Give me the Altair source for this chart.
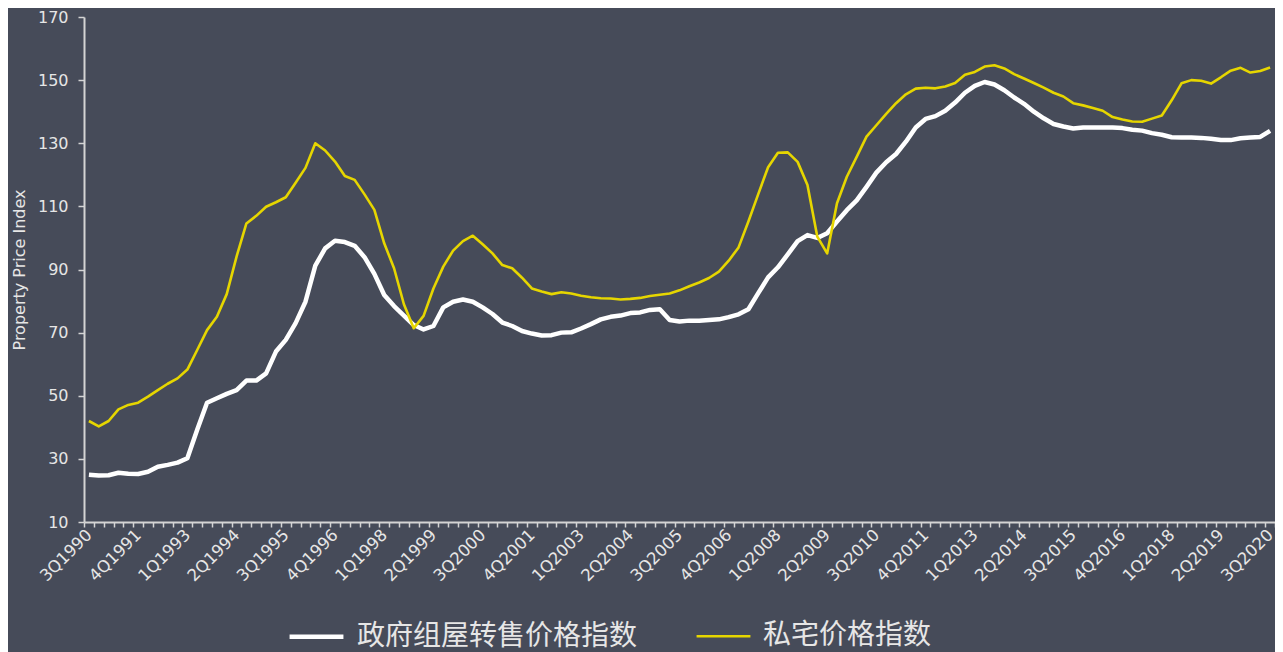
import altair as alt
import pandas as pd

# Quarter categories 3Q1990 .. 3Q2020
quarters = []
_y, _q = 1990, 3
for _ in range(121):
    quarters.append(f"{_q}Q{_y}")
    _q += 1
    if _q > 4:
        _q = 1
        _y += 1

series_names = ["政府组屋转售价格指数", "私宅价格指数"]

hdb = [
    25.0, 24.7, 24.8, 25.6, 25.3, 25.2, 25.9, 27.5, 28.1, 28.8,
    30.2, 39.2, 47.8, 49.2, 50.6, 51.8, 54.8, 54.8, 57.1, 64.0,
    67.7, 73.0, 79.8, 91.2, 96.7, 99.1, 98.7, 97.5, 93.9, 88.6,
    81.9, 78.4, 75.4, 72.4, 71.0, 72.1, 78.0, 79.8, 80.5, 79.8,
    78.0, 75.9, 73.2, 72.1, 70.5, 69.7, 69.1, 69.2, 70.0, 70.1,
    71.3, 72.7, 74.2, 75.0, 75.4, 76.2, 76.4, 77.2, 77.4, 74.0,
    73.5, 73.8, 73.8, 74.0, 74.2, 74.9, 75.8, 77.4, 82.5, 87.5,
    90.7, 94.8, 99.0, 100.9, 100.0, 101.5, 105.2, 108.8, 111.9, 116.2,
    120.7, 124.0, 126.6, 130.5, 135.0, 137.7, 138.6, 140.3, 142.9, 146.0,
    148.2, 149.4, 148.6, 146.8, 144.5, 142.5, 140.0, 137.9, 136.1, 135.3,
    134.7, 135.0, 135.0, 135.0, 135.0, 134.8, 134.3, 134.0, 133.2, 132.7,
    131.9, 131.8, 131.8, 131.7, 131.4, 131.0, 131.0, 131.6, 131.8, 132.0, 133.9,
]

private = [
    42.0, 40.3, 42.0, 45.7, 47.1, 47.8, 49.7, 51.8, 53.8, 55.5,
    58.3, 64.5, 70.8, 75.0, 82.2, 94.1, 104.6, 107.0, 109.9, 111.3,
    112.9, 117.5, 122.2, 130.0, 127.7, 124.2, 119.6, 118.4, 113.8, 108.9,
    98.3, 90.4, 79.0, 71.4, 75.3, 84.0, 90.9, 96.0, 99.0, 100.7,
    98.0, 95.1, 91.4, 90.4, 87.4, 84.0, 83.0, 82.2, 82.8, 82.4,
    81.7, 81.2, 80.9, 80.8, 80.5, 80.7, 81.0, 81.6, 82.0, 82.4,
    83.4, 84.7, 85.9, 87.3, 89.3, 92.8, 97.0, 105.2, 113.9, 122.4,
    127.0, 127.1, 124.1, 116.8, 100.4, 95.1, 111.0, 119.4, 125.7, 132.1,
    135.7, 139.3, 142.7, 145.5, 147.3, 147.6, 147.4, 148.0, 149.1, 151.7,
    152.6, 154.3, 154.7, 153.7, 151.9, 150.5, 149.1, 147.6, 146.0, 144.8,
    142.7, 142.0, 141.2, 140.3, 138.3, 137.5, 136.9, 136.8, 137.8, 138.8,
    143.6, 149.0, 150.0, 149.8, 148.9, 150.9, 153.0, 153.9, 152.4, 152.9, 154.0,
]

y_ticks = [10, 30, 50, 70, 90, 110, 130, 150, 170]
label_quarters = quarters[::5]

rows = []
for name, vals in zip(series_names, [hdb, private]):
    for qtr, v in zip(quarters, vals):
        rows.append({"quarter": qtr, "series": name, "value": v})
df = pd.DataFrame(rows)

label_expr = (
    "indexof([" + ",".join(f"'{q}'" for q in label_quarters) + "], datum.value) >= 0 ? datum.value : ''"
)

BG = "#464b59"
AXIS_COL = "#d4d4d4"
TEXT_COL = "#e6e6e6"
FONT = "DejaVu Sans"

legend = alt.Legend(
    title=None,
    orient="none",
    legendX=203,
    legendY=590,
    direction="horizontal",
    symbolType="stroke",
    symbolSize=2900,
    labelFontSize=28,
    labelFont="Noto Sans CJK SC",
    labelColor=TEXT_COL,
    labelOffset=11,
    columnPadding=53,
    padding=0,
    labelLimit=500,
)

chart = alt.Chart(df).mark_line(strokeJoin="round").encode(
    x=alt.X(
        "quarter:O",
        sort=quarters,
        bandPosition=0.5,
        scale=alt.Scale(type="band", paddingInner=0, paddingOuter=0),
        axis=alt.Axis(
            title=None,
            labelExpr=label_expr,
            labelAngle=315,
            labelAlign="right",
            labelBaseline="middle",
            labelFontSize=16.5,
            labelFont=FONT,
            labelColor=TEXT_COL,
            labelPadding=5,
            labelOverlap=False,
            tickBand="extent",
            tickSize=5,
            tickColor=AXIS_COL,
            tickWidth=1.5,
            domainColor=AXIS_COL,
            domainWidth=2,
            grid=False,
        ),
    ),
    y=alt.Y(
        "value:Q",
        scale=alt.Scale(domain=[10, 170], nice=False, zero=False),
        axis=alt.Axis(
            values=y_ticks,
            title="Property Price Index",
            titleFont=FONT,
            titleFontSize=16,
            titleFontWeight="normal",
            titleColor=TEXT_COL,
            titlePadding=10,
            labelFont=FONT,
            labelFontSize=16,
            labelColor=TEXT_COL,
            labelPadding=10,
            tickSize=6,
            tickColor=AXIS_COL,
            tickWidth=1.5,
            domainColor=AXIS_COL,
            domainWidth=2,
            grid=False,
        ),
    ),
    color=alt.Color(
        "series:N",
        sort=series_names,
        scale=alt.Scale(domain=series_names, range=["#ffffff", "#e6d600"]),
        legend=legend,
    ),
    strokeWidth=alt.StrokeWidth(
        "series:N",
        sort=series_names,
        scale=alt.Scale(domain=series_names, range=[4.5, 2.6]),
        legend=legend,
    ),
).properties(
    width=1191,
    height=505,
    padding={"left": 76, "top": 9, "right": 0, "bottom": 130},
    autosize=alt.AutoSizeParams(type="none"),
    background=BG,
).configure_view(stroke=None)

chart.save("out.html", embed_options={"renderer": "svg", "actions": False})
